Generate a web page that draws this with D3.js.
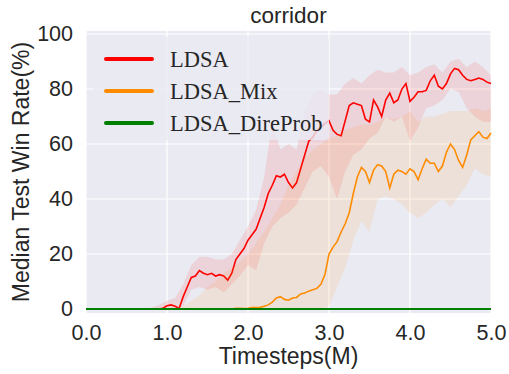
<!DOCTYPE html>
<html lang="en">
<head>
    <meta charset="UTF-8">
    <title>corridor</title>
    <script src="https://d3js.org/d3.v7.min.js"></script>
    <style>
        body { margin: 0; background: white; }
        svg { display: block; }
        .tick text { font-family: "Liberation Sans", Arial, sans-serif; font-size: 21.5px; fill: #262626; }
    </style>
</head>
<body>
    <svg width="509" height="374"></svg>

    <script>
        // timesteps (M) for medians, every 0.05
        const steps = d3.range(0, 101).map(i => i * 0.05);
        // timesteps (M) for the shaded bands, every 0.1
        const bandSteps = d3.range(0, 51).map(i => i * 0.1);

        const ldsaMedian = [
            0,0,0,0,0,0,0,0,0,0, 0,0,0,0,0,0,0,0,0,0.3,
            1.2,1.5,1.0,0.2,4.5,8,11.5,12,14,13, 12.5,13,12,12.5,12,10.5,13,18,20,22,
            25,27,29,33,37,42,45,48.5,48,49, 46,44,46,51,56,61,62.5,65,66,67.5,
            68.5,65,63.5,63,68.5,74,75,74.5,74,69, 68,76,73.5,70,76,78.5,75,76,80,82,
            75.5,77,79,79,79.5,83,85,81,80,82, 85.5,87.5,87,85,83.5,83,83.5,84,83.5,82.5,
            82
        ];
        const ldsaLower = [
            0,0,0,0,0,0,0,0,0,0, 0,0,1,7,8,7,8,6,9,12,
            16,14,24,30,33,35,38,44,50,52, 48,40,50,56,58,62,64,70,68,70,
            61,66,73,74,76,80,79,73,70,68, 68
        ];
        const ldsaUpper = [
            0,0,0,0,0,0,0,0,0.5,1.5, 3,4,9,16,19,19,18,18,20,25,
            30,36,48,68,58,60,58,72,78,80, 78,78,82,84,82,85,87,86,86,88,
            85,86,88,89,86,90,91,88,90,88, 85
        ];

        const mixMedian = [
            0,0,0,0,0,0,0,0,0,0, 0,0,0,0,0,0,0,0,0,0,
            0,0,0,0,0,0,0,0,0,0, 0,0,0,0,0,0,0,0.3,0.3,0.2,
            0.3,0.5,0.5,0.6,1,1.5,2.5,4,4.5,3.5, 3.2,4,4.2,5.5,5.8,6.5,7,7.5,9,12.5,
            20,22.5,24.5,28,31,35,42,48,51.5,50, 46,50.5,52.5,52,50,44,49,50.5,50,49,
            51,50,47,51,54.5,53,53,50,52,57, 60,58,54,51.5,56,61.5,63,64.5,62.5,62,
            64
        ];
        const mixLower = [
            0,0,0,0,0,0,0,0,0,0, 0,0,0,0,0,0,0,0,0,0,
            0,0,0,0,0,0,0,0,0,0, 1,8,15,25,32,28,40,41,40,38,
            35,33,35,38,40,37,41,45,51,49, 48
        ];
        const mixUpper = [
            0,0,0,0,0,0,0,0,0,0, 0,0,1,3,5,8,10,13,15,17,
            20,24,28,33,38,45,50,55,58,60, 62,63,65,66,67,67,68,70,69,70,
            72,68,70,70,71,72,72,72,73,72, 73
        ];

        const direProbMedian = steps.map(() => 0);

        const seriesNames = ["LDSA", "LDSA_Mix", "LDSA_DireProb"];
        const seriesColors = ["#ff0000", "#ff8c00", "#008000"];

        const xTicks = [0, 1, 2, 3, 4, 5];
        const yTicks = [0, 20, 40, 60, 80, 100];

        const svg = d3.select("svg");

        // plot area
        const plotLeft = 86, plotRight = 491, plotTop = 31, plotBottom = 313;

        const x = d3.scaleLinear().domain([0, 5]).range([plotLeft, plotRight]);
        const y = d3.scaleLinear().domain([-1.45, 101.1]).range([plotBottom, plotTop]);

        // background
        svg.append("rect")
            .attr("x", plotLeft).attr("y", plotTop)
            .attr("width", plotRight - plotLeft).attr("height", plotBottom - plotTop)
            .attr("fill", "#eaeaf2");

        // grid
        svg.append("g").selectAll("line").data(xTicks).join("line")
            .attr("x1", d => x(d)).attr("x2", d => x(d))
            .attr("y1", plotTop).attr("y2", plotBottom)
            .attr("stroke", "white").attr("stroke-width", 1.2);
        svg.append("g").selectAll("line").data(yTicks).join("line")
            .attr("x1", plotLeft).attr("x2", plotRight)
            .attr("y1", d => y(d)).attr("y2", d => y(d))
            .attr("stroke", "white").attr("stroke-width", 1.2);

        // bands
        const area = (lo, hi) => d3.area()
            .x((d, i) => x(bandSteps[i]))
            .y0((d, i) => y(lo[i]))
            .y1((d, i) => y(hi[i]))(bandSteps);

        const line = vals => d3.line()
            .x((d, i) => x(steps[i]))
            .y(d => y(d))(vals);

        svg.append("path").attr("d", area(ldsaLower, ldsaUpper))
            .attr("fill", seriesColors[0]).attr("fill-opacity", 0.1);
        svg.append("path").attr("d", line(ldsaMedian))
            .attr("fill", "none").attr("stroke", seriesColors[0]).attr("stroke-width", 1.6);

        svg.append("path").attr("d", area(mixLower, mixUpper))
            .attr("fill", seriesColors[1]).attr("fill-opacity", 0.1);
        svg.append("path").attr("d", line(mixMedian))
            .attr("fill", "none").attr("stroke", seriesColors[1]).attr("stroke-width", 1.6);

        svg.append("path").attr("d", line(direProbMedian))
            .attr("fill", "none").attr("stroke", seriesColors[2]).attr("stroke-width", 2);

        // axes
        const xAxis = svg.append("g")
            .attr("transform", `translate(0,${plotBottom})`)
            .call(d3.axisBottom(x).tickValues(xTicks).tickFormat(d3.format(".1f")).tickSize(0).tickPadding(12));
        xAxis.select(".domain").remove();

        const yAxis = svg.append("g")
            .attr("transform", `translate(${plotLeft},0)`)
            .call(d3.axisLeft(y).tickValues(yTicks).tickSize(0).tickPadding(13));
        yAxis.select(".domain").remove();

        // titles
        svg.append("text")
            .attr("x", (plotLeft + plotRight) / 2).attr("y", 23)
            .attr("text-anchor", "middle")
            .style("font-family", "Liberation Sans, Arial, sans-serif")
            .style("font-size", "22.5px").style("fill", "#262626")
            .text("corridor");

        svg.append("text")
            .attr("x", (plotLeft + plotRight) / 2).attr("y", 364)
            .attr("text-anchor", "middle")
            .style("font-family", "Liberation Sans, Arial, sans-serif")
            .style("font-size", "23px").style("fill", "#262626")
            .text("Timesteps(M)");

        svg.append("text")
            .attr("transform", `translate(28.5,${(plotTop + plotBottom) / 2}) rotate(-90)`)
            .attr("text-anchor", "middle")
            .style("font-family", "Liberation Sans, Arial, sans-serif")
            .style("font-size", "23px").style("fill", "#262626")
            .text("Median Test Win Rate(%)");

        // legend
        svg.append("rect")
            .attr("x", 93).attr("y", 37).attr("width", 236).attr("height", 103)
            .attr("rx", 4)
            .attr("fill", "#eaeaf2").attr("fill-opacity", 0.8);

        const legend = svg.append("g").selectAll("g").data(seriesNames).join("g")
            .attr("transform", (d, i) => `translate(0,${59 + i * 32})`);
        legend.append("line")
            .attr("x1", 106).attr("x2", 152)
            .attr("stroke", (d, i) => seriesColors[i])
            .attr("stroke-width", 4).attr("stroke-linecap", "round");
        legend.append("text")
            .attr("x", 170).attr("y", 8)
            .style("font-family", "Liberation Serif, Times New Roman, serif")
            .style("font-size", "22.5px").style("fill", "#262626")
            .text(d => d);
    </script>
</body>
</html>
